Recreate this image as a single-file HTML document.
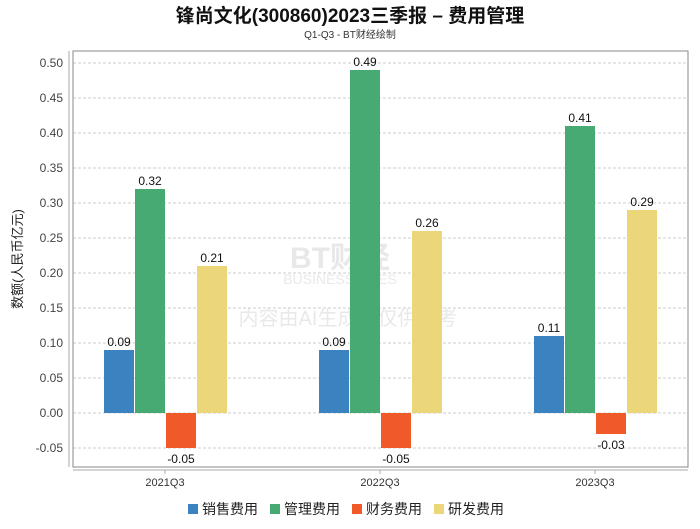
<!DOCTYPE html>
<html><head><meta charset="utf-8"><style>
body{margin:0;background:#fff;font-family:"Liberation Sans","Noto Sans CJK SC",sans-serif}
svg text{font-family:"Liberation Sans","Noto Sans CJK SC",sans-serif}
</style></head><body>
<svg id="c" width="700" height="524" xmlns="http://www.w3.org/2000/svg">
<text x="350" y="22" text-anchor="middle" font-size="19" font-weight="bold" fill="#111">锋尚文化(300860)2023三季报 – 费用管理</text>
<text x="350" y="38" text-anchor="middle" font-size="10" fill="#333">Q1-Q3 - BT财经绘制</text>
<g opacity="0.13">
<text x="340" y="268" text-anchor="middle" font-size="30" font-weight="bold" fill="#555">BT财经</text>
<text x="340" y="284" text-anchor="middle" font-size="14" fill="#555">BUSINESSTIMES</text>
<text x="348" y="325" text-anchor="middle" font-size="20" fill="#555">内容由AI生成，仅供参考</text>
</g>
<g id="grid"></g>
<rect x="73" y="51" width="615" height="416" fill="none" stroke="#888"/>
<line x1="73" y1="470" x2="688" y2="470" stroke="#aaa"/>
<line x1="69" y1="51" x2="69" y2="467" stroke="#aaa"/>
<text transform="translate(22,259) rotate(-90)" text-anchor="middle" font-size="13" fill="#222">数额(人民币亿元)</text>
<g id="bars"></g>
<g id="legend"></g>
</svg>
<script>
const categories=["2021Q3","2022Q3","2023Q3"];
const seriesNames=["销售费用","管理费用","财务费用","研发费用"];
const colors=["#3a82c0","#46aa72","#f05a28","#ecd67a"];
const sales=[0.09,0.09,0.11];
const admin=[0.32,0.49,0.41];
const finance=[-0.05,-0.05,-0.03];
const rnd=[0.21,0.26,0.29];
const yTicks=[-0.05,0,0.05,0.1,0.15,0.2,0.25,0.3,0.35,0.4,0.45,0.5];
const series=[sales,admin,finance,rnd];
const NS="http://www.w3.org/2000/svg";
const y=v=>413-v*700;
const xc=i=>165+i*215;
function mk(t,a,p){const e=document.createElementNS(NS,t);for(const k in a)e.setAttribute(k,a[k]);p.appendChild(e);return e;}
const g=document.getElementById('grid');
yTicks.forEach(v=>{
 const l=mk('line',{x1:73,x2:688,y1:y(v),y2:y(v),stroke:'#ccc','stroke-dasharray':'3,2'},g);
 
 
 const t=mk('text',{x:63,y:y(v)+4,'text-anchor':'end','font-size':12,fill:'#444'},g);
 t.textContent=v.toFixed(2);
 
 
});
const b=document.getElementById('bars');
categories.forEach((c,i)=>{
 const t=mk('text',{x:xc(i),y:486,'text-anchor':'middle','font-size':11,fill:'#333'},b);
 t.textContent=c;
 
 
 mk('line',{x1:xc(i),x2:xc(i),y1:470,y2:474,stroke:'#aaa'},b);
 series.forEach((s,j)=>{
  const v=s[i],x0=xc(i)-61+j*31;
  const top=Math.min(y(v),y(0)),h=Math.abs(y(v)-y(0));
  const r=mk('rect',{x:x0,y:top,width:30,height:h,fill:colors[j]},b);
  
  
  const lt=mk('text',{x:x0+15,y:v>=0?y(v)-4:y(v)+15,'text-anchor':'middle','font-size':12,fill:'#111'},b);
  lt.textContent=v.toFixed(2);
  
  
 });
});
const lg=document.getElementById('legend');
let lx=188;
seriesNames.forEach((n,j)=>{
 const r=mk('rect',{x:lx,y:504,width:10,height:10,fill:colors[j]},lg);
 
 
 const t=mk('text',{x:lx+14,y:514,'font-size':14,fill:'#222'},lg);
 t.textContent=n;
 
 
 lx+=82;
});
</script>
</body></html>
